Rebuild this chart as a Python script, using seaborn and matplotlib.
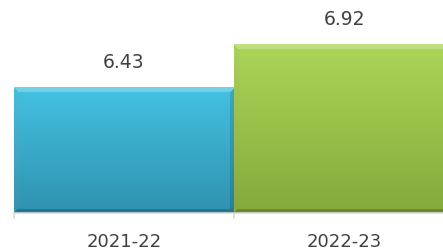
import numpy as np
import pandas as pd
import matplotlib
matplotlib.use("Agg")
import matplotlib.pyplot as plt
from matplotlib.patches import Rectangle
import seaborn as sns

# Chart data
years = ["2021-22", "2022-23"]
values = [6.43, 6.92]

# bar colours: (top, bottom) of the vertical gradient
bar_top = ["#44c1e2", "#acd558"]
bar_bottom = ["#2f92b0", "#86a93b"]

y_floor = 5

sns.set_theme(style="white")
plt.rcParams["font.family"] = ["DejaVu Sans"]

df = pd.DataFrame({"year": years, "value": values})

fig = plt.figure(figsize=(4.43, 2.48), dpi=100)
ax = fig.add_axes([14 / 443, 35 / 248, 440 / 443, 213 / 248])

sns.barplot(data=df, x="year", y="value", hue="year", palette=bar_top,
            width=1.0, legend=False, ax=ax, saturation=1, edgecolor="none")

ax.set_xlim(-0.5, 1.5)
ax.set_ylim(y_floor, y_floor + 213 / 88)


def hex_rgb(h):
    return np.array(matplotlib.colors.to_rgb(h))


# gradient + bevel fill over the visible part of each bar
fig.canvas.draw()
for p, top, bot in zip(ax.patches, bar_top, bar_bottom):
    x0 = p.get_x()
    w = p.get_width()
    y1 = p.get_y() + p.get_height()
    y0 = max(p.get_y(), y_floor)
    (px0, py0), (px1, py1) = ax.transData.transform([(x0, y0), (x0 + w, y1)])
    W, H = max(int(round(px1 - px0)), 2), max(int(round(py1 - py0)), 2)
    t = np.linspace(0, 1, H)[:, None]
    img = (1 - t)[..., None] * hex_rgb(top) + t[..., None] * hex_rgb(bot)
    img = np.repeat(img, W, axis=1)
    b = 5
    yy, xx = np.mgrid[0:H, 0:W]
    top_band = (yy < b) & (xx >= yy) & (W - 1 - xx >= yy)
    bot_band = (H - 1 - yy < 4) & (xx >= H - 1 - yy) & (W - 1 - xx >= H - 1 - yy)
    left_band = (xx < b) & ~top_band & ~bot_band
    right_band = (W - 1 - xx < b) & ~top_band & ~bot_band
    img[top_band] = img[top_band] * 0.75 + 0.25
    img[left_band] = img[left_band] * 0.93 + 0.04
    img[right_band] = img[right_band] * 0.87
    img[bot_band] = img[bot_band] * 0.8
    clip = Rectangle((x0, y0), w, y1 - y0, transform=ax.transData)
    im = ax.imshow(img, extent=(x0, x0 + w, y0, y1), aspect="auto",
                   zorder=p.get_zorder() + 0.1, interpolation="nearest")
    im.set_clip_path(clip)

ax.set_xlim(-0.5, 1.5)
ax.set_ylim(y_floor, y_floor + 213 / 88)

# value labels
for i, v in enumerate(values):
    ax.annotate(f"{v:.2f}", (i, v), xytext=(0, 11), textcoords="offset points",
                ha="center", va="bottom", fontsize=13.5, color="#404040")

sns.despine(ax=ax, left=True, right=True, top=True)
ax.spines["bottom"].set_color("#d9d9d9")
ax.spines["bottom"].set_linewidth(1.2)
ax.spines["bottom"].set_zorder(5)
ax.set_yticks([])
ax.set_xlabel("")
ax.set_ylabel("")
ax.set_xticks(range(len(years)))
ax.set_xticklabels(years, fontsize=13, color="#404040")
ax.set_xticks([-0.5, 0.5, 1.5], minor=True)
ax.tick_params(axis="x", which="major", length=0, pad=14.5)
ax.tick_params(axis="x", which="minor", length=4.5, width=1.2, color="#d9d9d9",
               direction="out", bottom=True)

fig.savefig("out.png", dpi=100)
